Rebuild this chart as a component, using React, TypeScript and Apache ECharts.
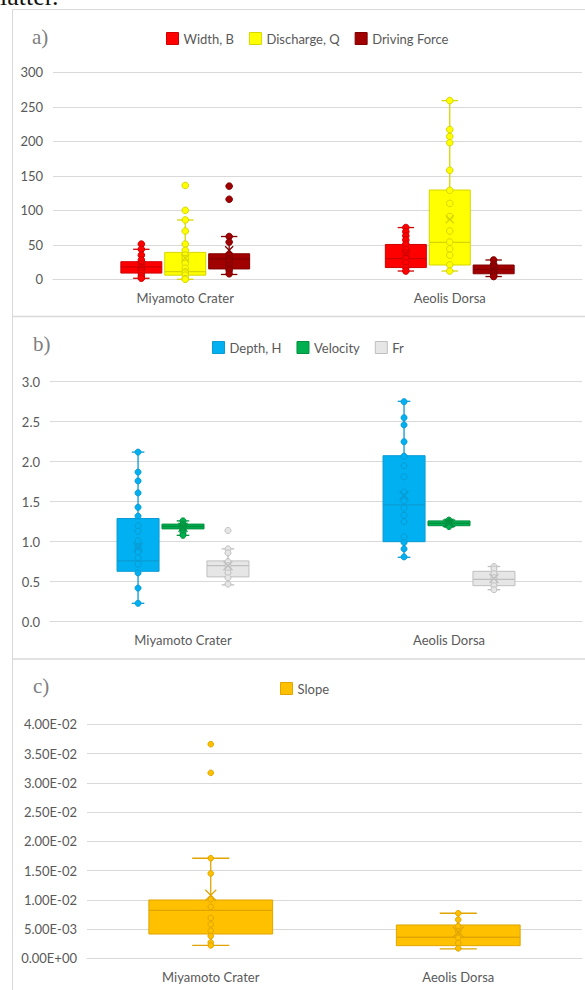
import React, { useEffect, useRef } from 'react';
import * as echarts from 'echarts';

const categories = ['Miyamoto Crater', 'Aeolis Dorsa'];

// stats per category: [min, q1, median, q3, max, mean]
const widthStats = [[1.5, 9, 18, 25.5, 43.5, 20], [12, 17, 30, 50.5, 75, 37]];
const widthPoints = [[51, 43.5, 35, 28, 22, 18, 15, 12, 9, 5, 1.5], [75, 69, 63, 57, 51, 43, 38, 30, 24, 17, 12]];
const dischargeStats = [[0, 6, 11, 39, 86, 31], [12, 20.7, 53.6, 129.4, 259, 87]];
const dischargePoints = [[136, 100, 86, 70, 51, 42, 35, 30, 23, 16, 11, 9, 6, 1, 0], [259, 217, 207, 198, 158, 129, 110, 91, 70, 54, 44, 35, 21, 12]];
const forceStats = [[7, 15, 29.5, 37, 62, 42], [4, 8, 14.5, 20.7, 28, 15]];
const forcePoints = [[135, 116, 62, 54, 35, 30, 28, 25, 20, 16, 13, 8], [28, 22, 20, 18, 15, 12, 10, 8, 5, 4]];

const depthStats = [[0.23, 0.63, 0.76, 1.29, 2.12, 0.93], [0.805, 1.0, 1.46, 2.075, 2.755, 1.58]];
const depthPoints = [[2.12, 1.87, 1.76, 1.61, 1.43, 1.32, 1.2, 1.13, 1.01, 0.93, 0.87, 0.8, 0.72, 0.61, 0.42, 0.23], [2.75, 2.55, 2.46, 2.25, 2.07, 1.95, 1.81, 1.62, 1.51, 1.42, 1.33, 1.25, 1.06, 0.99, 0.91, 0.81]];
const velocityStats = [[1.08, 1.16, 1.19, 1.22, 1.26, 1.18], [1.19, 1.2, 1.23, 1.26, 1.27, 1.23]];
const velocityPoints = [[1.26, 1.22, 1.2, 1.19, 1.17, 1.15, 1.11, 1.08], [1.27, 1.25, 1.24, 1.23, 1.22, 1.21, 1.19]];
const frStats = [[0.46, 0.56, 0.7, 0.76, 0.91, 0.7], [0.4, 0.45, 0.53, 0.63, 0.69, 0.54]];
const frPoints = [[1.14, 0.91, 0.86, 0.75, 0.7, 0.66, 0.61, 0.55, 0.47], [0.69, 0.66, 0.6, 0.55, 0.5, 0.45, 0.4]];

const slopeStats = [[0.0022, 0.00415, 0.0082, 0.00997, 0.0171, 0.01077], [0.0016, 0.00216, 0.0036, 0.0057, 0.0077, 0.0045]];
const slopePoints = [[0.0366, 0.0317, 0.0171, 0.0145, 0.0101, 0.0088, 0.0069, 0.0058, 0.0047, 0.0038, 0.0027, 0.0022], [0.0077, 0.0066, 0.0055, 0.0046, 0.0035, 0.0026, 0.0017]];

const GRIDLINE = '#D9D9D9';
const TXT = '#595959';
const FONT = 'Lato, "Open Sans", sans-serif';

function sciFmt(v: number) {
  if (Math.abs(v) < 1e-12) return '0.00E+00';
  let e = Math.floor(Math.log10(Math.abs(v)));
  let m = v / Math.pow(10, e);
  if (Number(m.toFixed(2)) >= 10) { m /= 10; e += 1; }
  return m.toFixed(2) + 'E' + (e < 0 ? '-' : '+') + String(Math.abs(e)).padStart(2, '0');
}

function boxSeries(name: string, stats: number[][], points: number[][], fill: string, edge: string,
  offset: number, boxFrac: number, capFrac: number, r: number, meanSize: number, idx: number) {
  return {
    type: 'custom',
    name,
    xAxisIndex: idx,
    yAxisIndex: idx,
    itemStyle: { color: fill, borderColor: edge },
    data: stats.map((s, i) => [i, ...s]),
    encode: { x: 0, y: [1, 2, 3, 4, 5] },
    renderItem: (params: any, api: any) => {
      const cat = api.value(0);
      const band = api.size([1, 0])[0];
      const cx = api.coord([cat, 0])[0] + offset * band;
      const w = band * boxFrac;
      const Y = (v: number) => api.coord([cat, v])[1];
      const mn = Y(api.value(1));
      const q1 = Y(api.value(2));
      const md = Y(api.value(3));
      const q3 = Y(api.value(4));
      const mx = Y(api.value(5));
      const mean = Y(api.value(6));
      const cw = w * capFrac;
      const ls = { stroke: edge, lineWidth: 1.3 };
      const ch: any[] = [
        { type: 'line', shape: { x1: cx, y1: q3, x2: cx, y2: mx }, style: ls },
        { type: 'line', shape: { x1: cx, y1: q1, x2: cx, y2: mn }, style: ls },
        { type: 'line', shape: { x1: cx - cw / 2, y1: mx, x2: cx + cw / 2, y2: mx }, style: ls },
        { type: 'line', shape: { x1: cx - cw / 2, y1: mn, x2: cx + cw / 2, y2: mn }, style: ls },
        { type: 'rect', shape: { x: cx - w / 2, y: q3, width: w, height: q1 - q3 }, style: { fill, stroke: edge, lineWidth: 1 } },
        { type: 'line', shape: { x1: cx - w / 2, y1: md, x2: cx + w / 2, y2: md }, style: ls },
      ];
      points[params.dataIndex].forEach((v) => {
        ch.push({ type: 'circle', shape: { cx, cy: Y(v), r }, style: { fill, stroke: edge, lineWidth: 1 } });
      });
      const h = meanSize / 2;
      ch.push({ type: 'line', shape: { x1: cx - h, y1: mean - h, x2: cx + h, y2: mean + h }, style: ls });
      ch.push({ type: 'line', shape: { x1: cx - h, y1: mean + h, x2: cx + h, y2: mean - h }, style: ls });
      return { type: 'group', children: ch };
    },
  };
}

function xAxis(idx: number) {
  return {
    type: 'category',
    gridIndex: idx,
    data: categories,
    axisTick: { show: false },
    axisLine: { lineStyle: { color: GRIDLINE } },
    axisLabel: { color: TXT, fontSize: 13, fontFamily: FONT, margin: 12 },
  };
}

function yAxis(idx: number, max: number, interval: number, fmt: (v: number) => string) {
  return {
    type: 'value',
    gridIndex: idx,
    min: 0,
    max,
    interval,
    axisLine: { show: false },
    axisTick: { show: false },
    splitLine: { lineStyle: { color: GRIDLINE, width: 1 } },
    axisLabel: { color: TXT, fontSize: 13, fontFamily: FONT, margin: 10, formatter: fmt },
  };
}

function legend(left: number, top: number, items: { name: string; fill: string; edge: string }[]) {
  return {
    left,
    top,
    padding: 0,
    itemWidth: 12,
    itemHeight: 12,
    itemGap: 15,
    icon: 'rect',
    textStyle: { color: TXT, fontSize: 13, fontFamily: FONT },
    data: items.map((it) => ({ name: it.name, itemStyle: { color: it.fill, borderColor: it.edge, borderWidth: 1 } })),
  };
}

export default function App() {
  const ref = useRef<HTMLDivElement>(null);
  useEffect(() => {
    if (!ref.current) return;
    const chart = echarts.init(ref.current, undefined, { renderer: 'svg' });
    const labelStyle = { fill: '#7F7F7F', font: '21px "Liberation Serif", serif', textVerticalAlign: 'middle' };
    chart.setOption({
      animation: false,
      grid: [
        { left: 53, top: 72.3, width: 529, height: 207 },
        { left: 50, top: 381.7, width: 532, height: 240 },
        { left: 87, top: 724.3, width: 495, height: 234 },
      ],
      xAxis: [xAxis(0), xAxis(1), xAxis(2)],
      yAxis: [
        yAxis(0, 300, 50, (v) => String(Math.round(v))),
        yAxis(1, 3, 0.5, (v) => v.toFixed(1)),
        yAxis(2, 0.04, 0.005, sciFmt),
      ],
      legend: [
        legend(166, 32, [
          { name: 'Width, B', fill: '#FF0000', edge: '#D00000' },
          { name: 'Discharge, Q', fill: '#FFFF00', edge: '#D6D600' },
          { name: 'Driving Force', fill: '#A00000', edge: '#800000' },
        ]),
        legend(212, 341, [
          { name: 'Depth, H', fill: '#00B0F0', edge: '#0A9BD4' },
          { name: 'Velocity', fill: '#00B050', edge: '#00903F' },
          { name: 'Fr', fill: '#E6E6E6', edge: '#BFBFBF' },
        ]),
        legend(280, 682, [{ name: 'Slope', fill: '#FFC000', edge: '#E0A500' }]),
      ],
      series: [
        boxSeries('Width, B', widthStats, widthPoints, '#FF0000', '#D00000', -0.166, 0.155, 0.4, 3.3, 8, 0),
        boxSeries('Discharge, Q', dischargeStats, dischargePoints, '#FFFF00', '#D6D600', 0, 0.155, 0.4, 3.3, 8, 0),
        boxSeries('Driving Force', forceStats, forcePoints, '#A00000', '#800000', 0.166, 0.155, 0.4, 3.3, 8, 0),
        boxSeries('Depth, H', depthStats, depthPoints, '#00B0F0', '#0A9BD4', -0.169, 0.158, 0.3, 3, 9, 1),
        boxSeries('Velocity', velocityStats, velocityPoints, '#00B050', '#00903F', 0, 0.158, 0.3, 3, 9, 1),
        boxSeries('Fr', frStats, frPoints, '#E6E6E6', '#BFBFBF', 0.169, 0.158, 0.3, 3, 9, 1),
        boxSeries('Slope', slopeStats, slopePoints, '#FFC000', '#E0A500', 0, 0.5, 0.3, 2.8, 11, 2),
      ],
      graphic: [
        { type: 'text', left: 0, top: -17, style: { text: 'latter.', fill: '#111', font: '26px "Liberation Serif", serif' } },
        { type: 'line', shape: { x1: 12.5, y1: 9.5, x2: 12.5, y2: 990 }, style: { stroke: GRIDLINE, lineWidth: 1 } },
        { type: 'line', shape: { x1: 12.5, y1: 9.5, x2: 585, y2: 9.5 }, style: { stroke: GRIDLINE, lineWidth: 1 } },
        { type: 'line', shape: { x1: 12.5, y1: 316.5, x2: 585, y2: 316.5 }, style: { stroke: GRIDLINE, lineWidth: 1.5 } },
        { type: 'line', shape: { x1: 12.5, y1: 659, x2: 585, y2: 659 }, style: { stroke: GRIDLINE, lineWidth: 1.5 } },
        { type: 'text', x: 32, y: 37, style: { text: 'a)', ...labelStyle } },
        { type: 'text', x: 33, y: 344, style: { text: 'b)', ...labelStyle } },
        { type: 'text', x: 33, y: 686, style: { text: 'c)', ...labelStyle } },
      ],
    });
    return () => chart.dispose();
  }, []);
  return <div ref={ref} style={{ position: 'absolute', left: 0, top: 0, width: 585, height: 990 }} />;
}
